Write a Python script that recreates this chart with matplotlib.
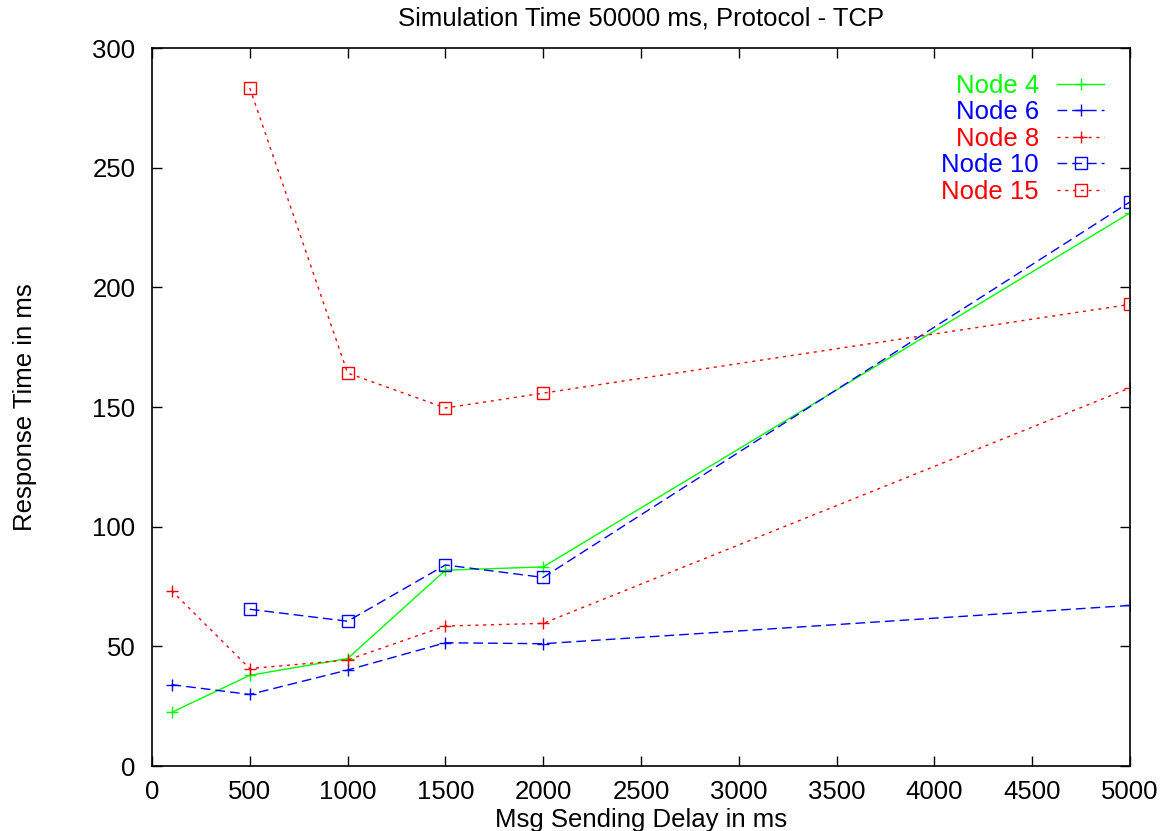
import matplotlib
matplotlib.use("Agg")
import matplotlib.pyplot as plt

plt.rcParams['font.family'] = ['Liberation Sans', 'DejaVu Sans']

# message sending delay (ms) and response time (ms) per node count
delay_all = [100, 500, 1000, 1500, 2000, 5000]
delay_big = [500, 1000, 1500, 2000, 5000]

node4 = [22.4, 37.9, 44.9, 81.8, 83.2, 231.1]
node6 = [34.0, 29.9, 40.1, 51.5, 51.1, 67.1]
node8 = [73.3, 40.7, 44.3, 58.5, 59.6, 158.0]
node10 = [65.5, 60.5, 84.0, 78.8, 235.7]
node15 = [283.3, 164.2, 149.6, 155.8, 192.9]

GREEN = '#00ff00'
BLUE = '#0000ff'
RED = '#ff0000'
blue_dash = (0, (7, 3.6))
red_dot = (0, (2.2, 3.4))

fig = plt.figure(figsize=(11.61, 8.31), dpi=100)
ax = fig.add_axes([0.1309, 0.0782, 0.8424, 0.864])

ax.plot(delay_all, node4, color=GREEN, lw=1, ls='-', marker='+', ms=9, mew=1, label='Node 4')
ax.plot(delay_all, node6, color=BLUE, lw=1, ls=blue_dash, marker='+', ms=9, mew=1, label='Node 6')
ax.plot(delay_all, node8, color=RED, lw=1, ls=red_dot, marker='+', ms=9, mew=1, label='Node 8')
ax.plot(delay_big, node10, color=BLUE, lw=1, ls=blue_dash, marker='s', ms=8, mew=1,
        mfc='none', label='Node 10')
ax.plot(delay_big, node15, color=RED, lw=1, ls=red_dot, marker='s', ms=8, mew=1,
        mfc='none', label='Node 15')

ax.set_xlim(0, 5000)
ax.set_ylim(0, 300)
ax.set_xticks(range(0, 5001, 500))
ax.set_yticks(range(0, 301, 50))
ax.tick_params(direction='in', length=7, width=1, top=True, right=True,
               labelsize=18.5)
ax.tick_params(axis='x', pad=10)
ax.tick_params(axis='y', pad=12)
for s in ax.spines.values():
    s.set_linewidth(1.2)

ax.set_title('Simulation Time 50000 ms, Protocol - TCP', fontsize=18.5, pad=16)
ax.set_xlabel('Msg Sending Delay in ms', fontsize=18.5, labelpad=3)
ax.set_ylabel('Response Time in ms', fontsize=18.5, labelpad=40)

leg = ax.legend(loc='upper right', frameon=False, markerfirst=False, fontsize=18.5,
                labelcolor='linecolor', handlelength=1.85, handletextpad=0.7,
                labelspacing=0.1, borderaxespad=0.6)

fig.savefig('out.png', dpi=100)
